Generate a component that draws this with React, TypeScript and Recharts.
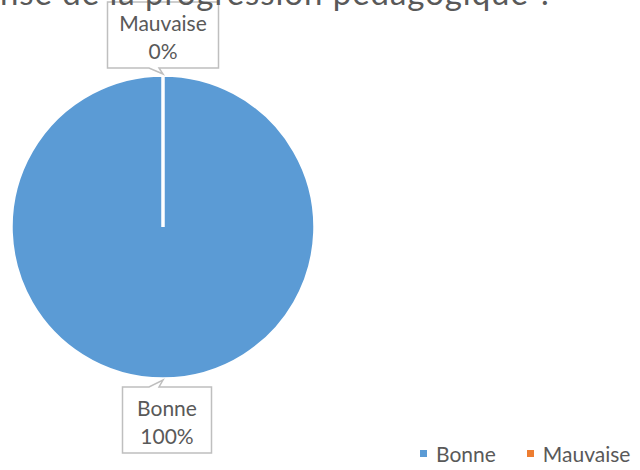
import React from "react";
import { PieChart, Pie, Cell, Legend } from "recharts";

// visible part of the title (left part is cut off in the original)
const TITLE = "nse de la progression pédagogique ?";

const categories = ["Bonne", "Mauvaise"];
const values = [100, 0];
const percentLabels = ["100%", "0%"];
const colors = ["#5B9BD5", "#ED7D31"];

const data = categories.map((name, i) => ({
  name,
  value: values[i],
  pct: percentLabels[i],
}));

const FONT = "Lato, 'Open Sans', sans-serif";
const TEXT = "#595959";
const BOX_W: Record<string, number> = { Bonne: 89, Mauvaise: 111 };
const BOX_H = 66;

const RADIAN = Math.PI / 180;

function CalloutLabel(props: any) {
  const { cx, cy, midAngle, outerRadius, payload, name } = props;
  const label = name ?? payload?.name;
  const pct = payload?.pct ?? "";
  const tx = cx + (outerRadius + 1) * Math.cos(-midAngle * RADIAN);
  const ty = cy + (outerRadius + 1) * Math.sin(-midAngle * RADIAN);
  const w = BOX_W[label] ?? 90;
  const top = ty < cy;
  const left = tx - w / 2 + (top ? 0 : 4);
  const gap = top ? 6 : 7;
  const y0 = top ? ty - gap - BOX_H : ty + gap;
  const y1 = y0 + BOX_H;
  const b1 = tx - 14;
  const b2 = tx - 4;
  const d = top
    ? `M${left},${y0} H${left + w} V${y1} H${b2} L${tx},${ty} L${b1},${y1} H${left} Z`
    : `M${left},${y0} H${b1} L${tx},${ty} L${b2},${y0} H${left + w} V${y1} H${left} Z`;
  const mid = left + w / 2;
  return (
    <g>
      <path d={d} fill="#ffffff" stroke="#BFBFBF" strokeWidth={1.5} />
      <text x={mid} y={y0 + 20} textAnchor="middle" dominantBaseline="central" fontFamily={FONT} fontSize={21} fill={TEXT}>
        {label}
      </text>
      <text x={mid} y={y0 + 48} textAnchor="middle" dominantBaseline="central" fontFamily={FONT} fontSize={21} fill={TEXT}>
        {pct}
      </text>
    </g>
  );
}

function LegendContent() {
  return (
    <div style={{ display: "flex", alignItems: "center", fontFamily: FONT, fontSize: 21, color: TEXT }}>
      {categories.map((c, i) => (
        <div key={c} style={{ display: "flex", alignItems: "center", marginRight: i === 0 ? 31 : 0 }}>
          <span style={{ width: 7, height: 7, background: colors[i], display: "inline-block", marginRight: 9 }} />
          <span>{c}</span>
        </div>
      ))}
    </div>
  );
}

export default function App() {
  return (
    <div style={{ position: "absolute", left: 0, top: 0, width: 640, height: 470, background: "#fff", overflow: "hidden" }}>
      <div style={{ position: "absolute", left: 0, top: 0 }}>
        <PieChart width={640} height={470} margin={{ top: 0, right: 0, bottom: 0, left: 0 }}>
          <Pie
            data={data}
            dataKey="value"
            nameKey="name"
            cx={163}
            cy={227}
            outerRadius={152}
            startAngle={90}
            endAngle={-270}
            stroke="#ffffff"
            strokeWidth={3.5}
            label={CalloutLabel}
            labelLine={false}
            isAnimationActive={false}
          >
            {data.map((d, i) => (
              <Cell key={d.name} fill={colors[i]} />
            ))}
          </Pie>
          <Legend
            content={<LegendContent />}
            wrapperStyle={{ position: "absolute", left: 420, top: 441, width: 220, bottom: "auto" }}
          />
        </PieChart>
      </div>
      <svg width={640} height={40} style={{ position: "absolute", left: 0, top: 0, pointerEvents: "none" }}>
        <text x={0} y={5} fontFamily={FONT} fontSize={33} fill={TEXT} textLength={553} lengthAdjust="spacing">
          {TITLE}
        </text>
      </svg>
    </div>
  );
}
